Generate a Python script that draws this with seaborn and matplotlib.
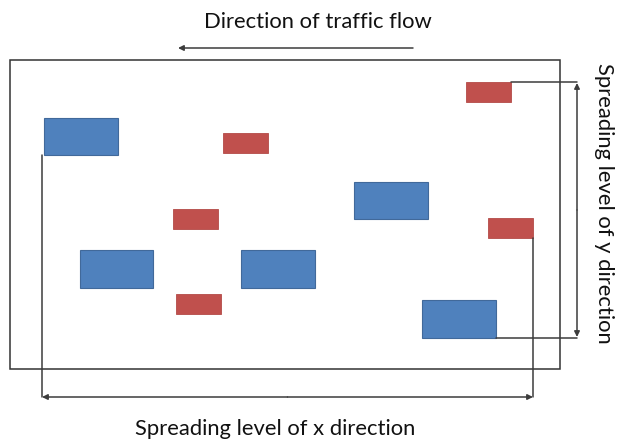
import matplotlib.pyplot as plt
import matplotlib.patches as mpatches
import seaborn as sns

sns.set_theme(style="white")
plt.rcParams['font.family'] = ['Lato', 'DejaVu Sans']

# vehicle boxes in picture coordinates: left, top, width, height
blue_x = [44, 80, 241, 354, 422]
blue_y = [118, 250, 250, 182, 300]
blue_w = [74, 73, 74, 74, 74]
blue_h = [37, 38, 38, 37, 38]

red_x = [466, 223, 173, 176, 488]
red_y = [82, 133, 209, 294, 218]
red_w = [45, 45, 45, 45, 45]
red_h = [20, 20, 20, 20, 20]

# road area
road = [10, 60, 550, 309]

title_top = "Direction of traffic flow"
label_x = "Spreading level of x direction"
label_y = "Spreading level of y direction"

fig = plt.figure(figsize=(6.17, 4.42), dpi=100)
ax = fig.add_axes([0, 0, 1, 1])
ax.set_xlim(0, 617)
ax.set_ylim(442, 0)
ax.axis('off')

line_c = '#3c3c3c'

ax.add_patch(mpatches.Rectangle((road[0], road[1]), road[2], road[3],
                                fill=False, edgecolor='#333333', lw=1.1))

for x, y, w, h in zip(blue_x, blue_y, blue_w, blue_h):
    ax.add_patch(mpatches.Rectangle((x, y), w, h, facecolor='#4F81BD',
                                    edgecolor='#41699a', lw=0.8))
for x, y, w, h in zip(red_x, red_y, red_w, red_h):
    ax.add_patch(mpatches.Rectangle((x, y), w, h, facecolor='#C0504D',
                                    edgecolor='#b34a47', lw=0.6))

arrow = dict(arrowstyle='-|>', color=line_c, lw=1.1, mutation_scale=8,
             shrinkA=0, shrinkB=0)

# traffic flow arrow
ax.annotate('', xy=(178, 48), xytext=(413, 48), arrowprops=arrow)
ax.text(318, 22, title_top, ha='center', va='center', fontsize=15.8, color='#111111')

# x spread
x_left = blue_x[0] - 2
x_right = red_x[4] + red_w[4]
y_arrow = 397
ax.plot([x_left, x_left], [blue_y[0] + blue_h[0], y_arrow], color=line_c, lw=1.1)
ax.plot([x_right, x_right], [red_y[4] + red_h[4], y_arrow], color=line_c, lw=1.1)
ax.annotate('', xy=(x_left, y_arrow), xytext=((x_left + x_right) / 2, y_arrow), arrowprops=arrow)
ax.annotate('', xy=(x_right, y_arrow), xytext=((x_left + x_right) / 2, y_arrow), arrowprops=arrow)
ax.text(275, 429, label_x, ha='center', va='center', fontsize=15.8, color='#111111')

# y spread
x_arrow = 577
y_top = red_y[0]
y_bot = blue_y[4] + blue_h[4]
ax.plot([red_x[0] + red_w[0], x_arrow], [y_top, y_top], color=line_c, lw=1.1)
ax.plot([blue_x[4] + blue_w[4], x_arrow], [y_bot, y_bot], color=line_c, lw=1.1)
ax.annotate('', xy=(x_arrow, y_top + 1), xytext=(x_arrow, (y_top + y_bot) / 2), arrowprops=arrow)
ax.annotate('', xy=(x_arrow, y_bot - 1), xytext=(x_arrow, (y_top + y_bot) / 2), arrowprops=arrow)
ax.text(604, 203, label_y, ha='center', va='center', rotation=-90, fontsize=15.8, color='#111111')

fig.savefig('out.png', dpi=100)
